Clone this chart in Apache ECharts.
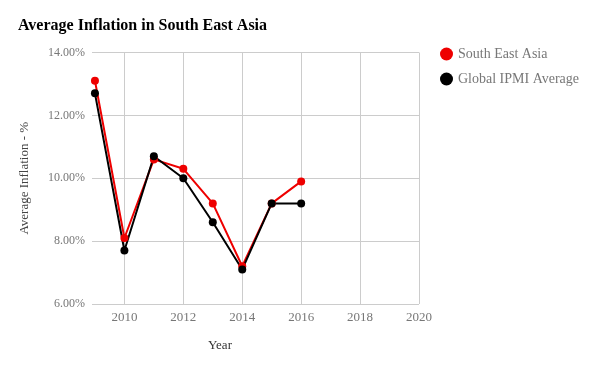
<!DOCTYPE html>
<html>
<head>
<meta charset="utf-8">
<script src="https://cdn.jsdelivr.net/npm/echarts@6/dist/echarts.min.js"></script>
<style>
html,body{margin:0;padding:0;background:#fff;}
#chart{width:600px;height:371px;}
</style>
</head>
<body>
<div id="chart"></div>
<script>
const years = [2009, 2010, 2011, 2012, 2013, 2014, 2015, 2016];
const southEastAsia = [13.1, 8.1, 10.6, 10.3, 9.2, 7.2, 9.2, 9.9];
const globalIPMI = [12.7, 7.7, 10.7, 10.0, 8.6, 7.1, 9.2, 9.2];
const xTicks = [2010, 2012, 2014, 2016, 2018, 2020];
const yTicks = [6, 8, 10, 12, 14];

const serif = '"Liberation Serif", "DejaVu Serif", serif';
const chart = echarts.init(document.getElementById('chart'), null, {renderer: 'canvas'});
chart.setOption({
  animation: false,
  backgroundColor: '#fff',
  title: [
    {text: 'Average Inflation in South East Asia', left: 18, top: 18, padding: 0,
     textStyle: {fontFamily: serif, fontSize: 16, fontWeight: 'bold', color: '#000'}},
    {text: 'Year', left: 208, top: 339, padding: 0,
     textStyle: {fontFamily: serif, fontSize: 13, fontWeight: 'normal', color: '#333'}}
  ],
  legend: {
    orient: 'vertical', left: 440, top: 47, itemGap: 11, padding: 0,
    icon: 'circle', itemWidth: 13, itemHeight: 13,
    textStyle: {fontFamily: serif, fontSize: 14, color: '#777'},
    data: ['South East Asia', 'Global IPMI Average']
  },
  grid: {left: 92, right: 181, top: 52.5, bottom: 67, containLabel: false},
  xAxis: {
    type: 'value', min: 2008.9, max: 2020,
    axisLine: {show: false},
    axisTick: {show: false, customValues: xTicks},
    axisLabel: {customValues: xTicks, fontFamily: serif, fontSize: 13, color: '#777', margin: 7,
      formatter: v => String(v)},
    splitLine: {show: true, lineStyle: {color: '#ccc', width: 1}}
  },
  yAxis: {
    type: 'value', min: 6, max: 14, interval: 2,
    name: 'Average Inflation - %', nameLocation: 'middle', nameGap: 61,
    nameTextStyle: {fontFamily: serif, fontSize: 13, color: '#444'},
    axisLine: {show: false}, axisTick: {show: false},
    axisLabel: {fontFamily: serif, fontSize: 12, color: '#777', margin: 7,
      formatter: v => v.toFixed(2) + '%'},
    splitLine: {show: true, lineStyle: {color: '#ccc', width: 1}}
  },
  series: [
    {name: 'South East Asia', type: 'line', data: years.map((y, i) => [y, southEastAsia[i]]),
     color: '#ee0000', symbol: 'circle', symbolSize: 8, lineStyle: {width: 2}},
    {name: 'Global IPMI Average', type: 'line', data: years.map((y, i) => [y, globalIPMI[i]]),
     color: '#000000', symbol: 'circle', symbolSize: 8, lineStyle: {width: 2}}
  ]
});
</script>
</body>
</html>
